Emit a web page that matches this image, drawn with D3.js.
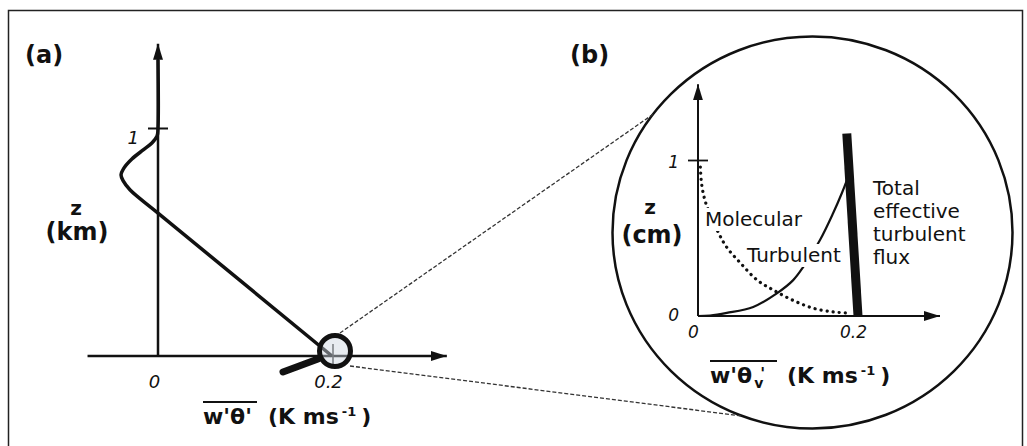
<!DOCTYPE html>
<html>
<head>
<meta charset="utf-8">
<script src="https://cdn.jsdelivr.net/npm/d3@7"></script>
<style>
  html, body { margin: 0; padding: 0; background: #fff; }
  svg { display: block; }
  text { font-family: 'DejaVu Sans', sans-serif; fill: #111; }
</style>
</head>
<body>
<div class="chart"></div>
<script>
// (a) boundary layer heat flux profile, z in km
const profileFlux = [0.2, 0, -0.032, -0.04, -0.0425, -0.039, -0.03, -0.017, -0.007, -0.001, 0, 0];
const profileZ = [0, 0.627, 0.728, 0.768, 0.794, 0.825, 0.864, 0.904, 0.934, 0.965, 1.0, 1.3];
const xTicksA = [0, 0.2];
const xTickLabelsA = ['0', '0.2'];
const zTicksA = [1];
const zTickLabelsA = ['1'];

// (b) surface layer close-up, z in cm
const molecularFlux = [0.003, 0.004, 0.006, 0.010, 0.024, 0.036, 0.053, 0.074, 0.094, 0.119, 0.144, 0.169, 0.186];
const molecularZ = [0.955, 0.87, 0.80, 0.72, 0.55, 0.44, 0.34, 0.23, 0.167, 0.10, 0.05, 0.026, 0.02];
const turbulentFlux = [0, 0.015, 0.036, 0.069, 0.099, 0.119, 0.131, 0.1525, 0.169, 0.18, 0.186];
const turbulentZ = [0, 0.003, 0.02, 0.058, 0.147, 0.23, 0.31, 0.487, 0.66, 0.79, 0.87];
const totalFlux = [0.2, 0.186];
const totalZ = [0, 1.17];
const xTicksB = [0, 0.2];
const xTickLabelsB = ['0', '0.2'];
const zTicksB = [0, 1];
const zTickLabelsB = ['0', '1'];
const totalLabelLines = ['Total', 'effective', 'turbulent', 'flux'];

const zip = (xs, zs) => xs.map((x, i) => ({ x, z: zs[i] }));

const dimensions = { width: 1027, height: 446 };

const svg = d3
  .select('.chart')
  .append('svg')
  .attr('width', dimensions.width)
  .attr('height', dimensions.height);

svg.append('rect')
  .attr('width', dimensions.width)
  .attr('height', dimensions.height)
  .attr('fill', '#fff');

// frame
svg.append('rect')
  .attr('x', 8.5)
  .attr('y', 10.5)
  .attr('width', 1014)
  .attr('height', 470)
  .attr('fill', 'none')
  .attr('stroke', '#222')
  .attr('stroke-width', 1.5);

const defs = svg.append('defs');
defs.append('marker')
  .attr('id', 'arrow')
  .attr('viewBox', '0 0 16 10')
  .attr('refX', 16)
  .attr('refY', 5)
  .attr('markerWidth', 16)
  .attr('markerHeight', 10)
  .attr('markerUnits', 'userSpaceOnUse')
  .attr('orient', 'auto')
  .append('path')
  .attr('d', 'M0,0L16,5L0,10Z')
  .attr('fill', '#111');

function styleTickText(sel, size) {
  sel.selectAll('.domain').remove();
  sel.attr('font-family', null).attr('font-size', null);
  sel.selectAll('text')
    .style('font-family', "'DejaVu Sans', sans-serif")
    .style('font-style', 'italic')
    .style('font-size', `${size}px`)
    .attr('fill', '#1a1a1a');
}

// ---------- panel (a) ----------
const xA = d3.scaleLinear().domain([0, 0.2]).range([158, 332]);
const zA = d3.scaleLinear().domain([0, 1]).range([356, 128]);

svg.append('text')
  .attr('x', 25)
  .attr('y', 63)
  .style('font-size', '24px')
  .style('font-weight', 'bold')
  .text('(a)');

// xAxis
svg.append('line')
  .attr('x1', xA(-0.081))
  .attr('x2', xA(0.332))
  .attr('y1', zA(0))
  .attr('y2', zA(0))
  .attr('stroke', '#111')
  .attr('stroke-width', 2.5)
  .attr('marker-end', 'url(#arrow)');

// zAxis
svg.append('line')
  .attr('x1', xA(0))
  .attr('x2', xA(0))
  .attr('y1', zA(0))
  .attr('y2', zA(1.37))
  .attr('stroke', '#111')
  .attr('stroke-width', 2.5)
  .attr('marker-end', 'url(#arrow)');

const xAxisA = svg.append('g')
  .attr('transform', `translate(0,${zA(0)})`)
  .call(d3.axisBottom(xA).tickValues(xTicksA).tickFormat((d, i) => xTickLabelsA[i]).tickSize(0).tickPadding(19));
styleTickText(xAxisA, 18);
xAxisA.selectAll('text').attr('dx', -4);

const zAxisA = svg.append('g')
  .attr('transform', `translate(${xA(0)},0)`)
  .call(d3.axisLeft(zA).tickValues(zTicksA).tickFormat((d, i) => zTickLabelsA[i]).tickSize(10).tickPadding(9));
styleTickText(zAxisA, 18);
zAxisA.selectAll('line').attr('x1', -10).attr('x2', 10).attr('stroke', '#111').attr('stroke-width', 2);
zAxisA.selectAll('text').attr('dy', 15);

// profile line
const lineA = d3.line()
  .x((d) => xA(d.x))
  .y((d) => zA(d.z))
  .curve(d3.curveCatmullRom.alpha(0.5));

svg.append('path')
  .attr('d', lineA(zip(profileFlux, profileZ)))
  .attr('fill', 'none')
  .attr('stroke', '#111')
  .attr('stroke-width', 3.5)
  .attr('stroke-linejoin', 'round');

// zLabel
svg.append('text')
  .attr('x', 76)
  .attr('y', 215)
  .attr('text-anchor', 'middle')
  .style('font-size', '20px')
  .style('font-weight', 'bold')
  .text('z');
svg.append('text')
  .attr('x', 77)
  .attr('y', 240)
  .attr('text-anchor', 'middle')
  .style('font-size', '24px')
  .style('font-weight', 'bold')
  .text('(km)');

// xLabel
function fluxTitle(x, y, subscript, overlineEnd, restX) {
  const t1 = svg.append('text')
    .attr('x', x)
    .attr('y', y)
    .style('font-size', '22px')
    .style('font-weight', 'bold')
    .text("w'\u03b8");
  if (subscript) {
    t1.append('tspan').attr('dx', 2).attr('dy', 5).style('font-size', '14px').text('v');
    t1.append('tspan').attr('dx', -3).attr('dy', -9).style('font-size', '16px').text("'");
  } else {
    t1.append('tspan').text("'");
  }
  svg.append('line')
    .attr('x1', x)
    .attr('x2', overlineEnd)
    .attr('y1', y - 22)
    .attr('y2', y - 22)
    .attr('stroke', '#111')
    .attr('stroke-width', 2);
  const t2 = svg.append('text')
    .attr('x', restX)
    .attr('y', y)
    .style('font-size', '22px')
    .style('font-weight', 'bold')
    .text('(K ms');
  t2.append('tspan').attr('dx', 3).attr('dy', -8).style('font-size', '13px').text('-1');
  t2.append('tspan').attr('dx', 5).attr('dy', 8).text(')');
}
fluxTitle(203, 424, false, 257, 268);

// ---------- panel (b) ----------
const xB = d3.scaleLinear().domain([0, 0.2]).range([698, 858]);
const zB = d3.scaleLinear().domain([0, 1]).range([316, 160]);

svg.append('text')
  .attr('x', 570)
  .attr('y', 63)
  .style('font-size', '24px')
  .style('font-weight', 'bold')
  .text('(b)');

// magnifier circle
const bigCircle = { cx: 812.5, cy: 232.5, rx: 200, ry: 196 };
svg.append('ellipse')
  .attr('cx', bigCircle.cx)
  .attr('cy', bigCircle.cy)
  .attr('rx', bigCircle.rx)
  .attr('ry', bigCircle.ry)
  .attr('fill', 'none')
  .attr('stroke', '#111')
  .attr('stroke-width', 2.5);

// lens on panel (a)
const lens = { cx: xA(0.2) + 3, cy: zA(0) - 5, r: 15.5 };
const onBig = (angle) => [
  bigCircle.cx + bigCircle.rx * Math.cos(angle),
  bigCircle.cy + bigCircle.ry * Math.sin(angle),
];
const connectors = [
  [[lens.cx + 5, lens.cy - 18], onBig(Math.atan2(-124, -164))],
  [[lens.cx + 15, lens.cy + 15], onBig(Math.atan2(192, -72))],
];
svg.selectAll('.connector')
  .data(connectors)
  .join('line')
  .attr('class', 'connector')
  .attr('x1', (d) => d[0][0])
  .attr('y1', (d) => d[0][1])
  .attr('x2', (d) => d[1][0])
  .attr('y2', (d) => d[1][1])
  .attr('stroke', '#333')
  .attr('stroke-width', 1.3)
  .attr('stroke-dasharray', '4,2');

svg.append('line')
  .attr('x1', lens.cx - 2)
  .attr('x2', lens.cx - 2)
  .attr('y1', lens.cy - 7)
  .attr('y2', lens.cy + 13)
  .attr('stroke', '#333')
  .attr('stroke-width', 1.5);

svg.append('circle')
  .attr('cx', lens.cx)
  .attr('cy', lens.cy)
  .attr('r', lens.r)
  .attr('fill', 'rgba(205,212,225,0.45)')
  .attr('stroke', '#111')
  .attr('stroke-width', 5);

// handle
svg.append('line')
  .attr('x1', lens.cx - 52)
  .attr('y1', lens.cy + 21)
  .attr('x2', lens.cx - 17)
  .attr('y2', lens.cy + 8)
  .attr('stroke', '#111')
  .attr('stroke-width', 7)
  .attr('stroke-linecap', 'round');

// xAxis
svg.append('line')
  .attr('x1', xB(0))
  .attr('x2', xB(0.3025))
  .attr('y1', zB(0))
  .attr('y2', zB(0))
  .attr('stroke', '#111')
  .attr('stroke-width', 2)
  .attr('marker-end', 'url(#arrow)');

// zAxis
svg.append('line')
  .attr('x1', xB(0))
  .attr('x2', xB(0))
  .attr('y1', zB(0))
  .attr('y2', zB(1.485))
  .attr('stroke', '#111')
  .attr('stroke-width', 2)
  .attr('marker-end', 'url(#arrow)');

const xAxisB = svg.append('g')
  .attr('transform', `translate(0,${zB(0)})`)
  .call(d3.axisBottom(xB).tickValues(xTicksB).tickFormat((d, i) => xTickLabelsB[i]).tickSize(0).tickPadding(10));
styleTickText(xAxisB, 17);
xAxisB.selectAll('text').attr('dx', -5);

const zAxisB = svg.append('g')
  .attr('transform', `translate(${xB(0)},0)`)
  .call(d3.axisLeft(zB).tickValues(zTicksB).tickFormat((d, i) => zTickLabelsB[i]).tickSize(10).tickPadding(9));
styleTickText(zAxisB, 17);
zAxisB.selectAll('line')
  .attr('x1', -10)
  .attr('x2', 10)
  .attr('stroke', '#111')
  .attr('stroke-width', 1.8)
  .attr('opacity', (d) => (d === 0 ? 0 : 1));
zAxisB.selectAll('text').attr('dy', (d) => (d === 0 ? 4 : 7));

const lineB = d3.line()
  .x((d) => xB(d.x))
  .y((d) => zB(d.z))
  .curve(d3.curveCatmullRom.alpha(0.5));

// molecular flux
svg.append('path')
  .attr('d', lineB(zip(molecularFlux, molecularZ)))
  .attr('fill', 'none')
  .attr('stroke', '#111')
  .attr('stroke-width', 3.2)
  .attr('stroke-linecap', 'round')
  .attr('stroke-dasharray', '0.1,6');

// turbulent flux
svg.append('path')
  .attr('d', lineB(zip(turbulentFlux, turbulentZ)))
  .attr('fill', 'none')
  .attr('stroke', '#111')
  .attr('stroke-width', 2.2);

// total effective turbulent flux
svg.append('path')
  .attr('d', d3.line().x((d) => xB(d.x)).y((d) => zB(d.z))(zip(totalFlux, totalZ)))
  .attr('fill', 'none')
  .attr('stroke', '#111')
  .attr('stroke-width', 9);

function maskedLabel(x, y, label) {
  const g = svg.append('g');
  const bg = g.append('rect').attr('fill', '#fff');
  const t = g.append('text')
    .attr('x', x)
    .attr('y', y)
    .style('font-size', '20px')
    .text(label);
  const b = t.node().getBBox();
  bg.attr('x', b.x - 1).attr('y', b.y + 1).attr('width', b.width + 2).attr('height', b.height - 1);
}
maskedLabel(705, 226, 'Molecular');
maskedLabel(747, 262, 'Turbulent');

svg.append('g')
  .selectAll('text')
  .data(totalLabelLines)
  .join('text')
  .attr('x', 873)
  .attr('y', (d, i) => 195 + i * 23)
  .style('font-size', '20px')
  .text((d) => d);

// zLabel
svg.append('text')
  .attr('x', 650)
  .attr('y', 214)
  .attr('text-anchor', 'middle')
  .style('font-size', '20px')
  .style('font-weight', 'bold')
  .text('z');
svg.append('text')
  .attr('x', 652)
  .attr('y', 243)
  .attr('text-anchor', 'middle')
  .style('font-size', '24px')
  .style('font-weight', 'bold')
  .text('(cm)');

fluxTitle(710, 383, true, 777, 787);
</script>
</body>
</html>
